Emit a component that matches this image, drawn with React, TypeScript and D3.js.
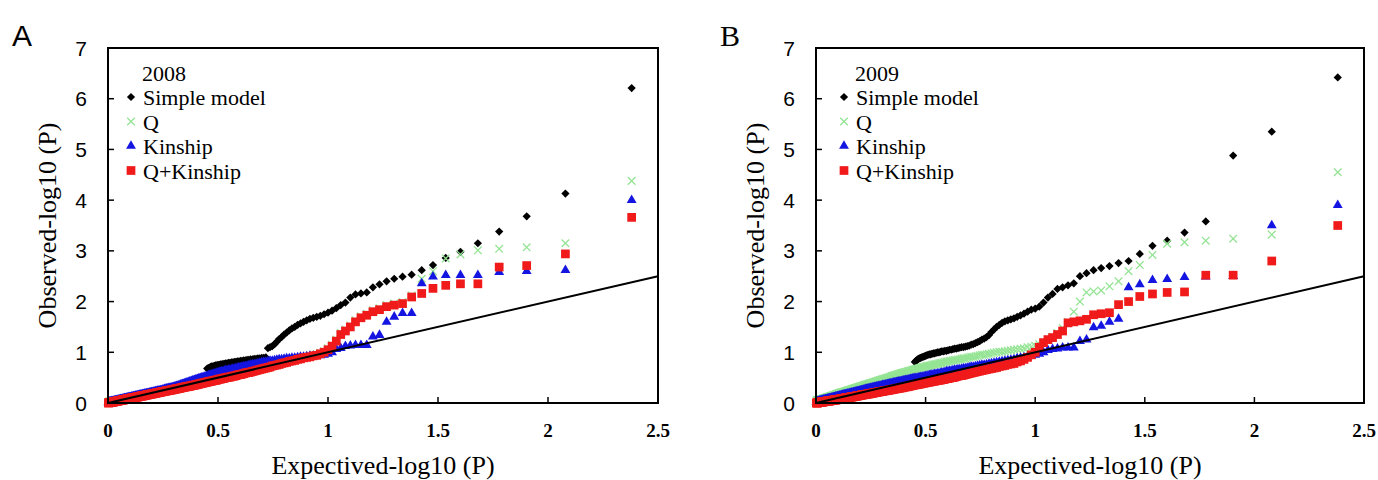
import React from "react";
import * as d3 from "d3";

// observed -log10(P), sorted from the strongest marker down (rank 1..239)
const simpleA = [
  6.21, 4.13, 3.68, 3.38, 3.15, 2.98, 2.86, 2.72, 2.62, 2.53,
  2.49, 2.45, 2.40, 2.34, 2.28, 2.18, 2.16, 2.14, 2.08, 1.98,
  1.93, 1.87, 1.82, 1.78, 1.75, 1.72, 1.70, 1.68, 1.66, 1.63,
  1.60, 1.57, 1.54, 1.50, 1.47, 1.43, 1.39, 1.35, 1.30, 1.26,
  1.21, 1.16, 1.12, 1.10, 1.08, 0.90, 0.89, 0.89, 0.88, 0.88,
  0.87, 0.87, 0.86, 0.86, 0.85, 0.85, 0.84, 0.84, 0.83, 0.83,
  0.82, 0.82, 0.81, 0.81, 0.80, 0.80, 0.79, 0.79, 0.78, 0.78,
  0.77, 0.77, 0.76, 0.76, 0.75, 0.75, 0.74, 0.74, 0.73, 0.72,
  0.72, 0.71, 0.70, 0.69, 0.68, 0.50, 0.50, 0.49, 0.48, 0.48,
  0.47, 0.46, 0.46, 0.45, 0.44, 0.44, 0.43, 0.42, 0.42, 0.41,
  0.40, 0.40, 0.39, 0.38, 0.38, 0.37, 0.37, 0.36, 0.35, 0.35,
  0.34, 0.34, 0.33, 0.32, 0.32, 0.31, 0.31, 0.30, 0.30, 0.29,
  0.29, 0.28, 0.28, 0.28, 0.27, 0.27, 0.27, 0.26, 0.26, 0.26,
  0.25, 0.25, 0.25, 0.24, 0.24, 0.24, 0.23, 0.23, 0.23, 0.22,
  0.22, 0.22, 0.22, 0.21, 0.21, 0.21, 0.20, 0.20, 0.20, 0.19,
  0.19, 0.19, 0.19, 0.18, 0.18, 0.18, 0.17, 0.17, 0.17, 0.17,
  0.16, 0.16, 0.16, 0.16, 0.15, 0.15, 0.15, 0.15, 0.14, 0.14,
  0.14, 0.14, 0.13, 0.13, 0.13, 0.13, 0.12, 0.12, 0.12, 0.12,
  0.11, 0.11, 0.11, 0.11, 0.10, 0.10, 0.10, 0.10, 0.09, 0.09,
  0.09, 0.09, 0.09, 0.08, 0.08, 0.08, 0.08, 0.07, 0.07, 0.07,
  0.07, 0.07, 0.06, 0.06, 0.06, 0.06, 0.05, 0.05, 0.05, 0.05,
  0.05, 0.04, 0.04, 0.04, 0.04, 0.04, 0.03, 0.03, 0.03, 0.03,
  0.03, 0.02, 0.02, 0.02, 0.02, 0.02, 0.01, 0.01, 0.01, 0.01,
  0.01, 0.01, 0.00, 0.00, 0.00, 0.00, 0.00, 0.00, 0.00,
];

const qA = [
  4.38, 3.15, 3.07, 3.04, 3.01, 2.93, 2.85, 2.60, 2.45, 2.12,
  1.99, 1.96, 1.93, 1.87, 1.83, 1.76, 1.71, 1.63, 1.53, 1.45,
  1.38, 1.25, 1.15, 1.08, 1.02, 0.99, 0.96, 0.95, 0.93, 0.92,
  0.91, 0.89, 0.88, 0.86, 0.85, 0.84, 0.82, 0.81, 0.80, 0.78,
  0.77, 0.76, 0.75, 0.73, 0.72, 0.71, 0.70, 0.69, 0.68, 0.67,
  0.66, 0.65, 0.64, 0.63, 0.62, 0.62, 0.61, 0.60, 0.59, 0.58,
  0.58, 0.57, 0.56, 0.55, 0.55, 0.54, 0.53, 0.53, 0.52, 0.52,
  0.51, 0.50, 0.50, 0.49, 0.49, 0.48, 0.47, 0.47, 0.46, 0.46,
  0.45, 0.45, 0.44, 0.44, 0.43, 0.43, 0.42, 0.42, 0.41, 0.41,
  0.40, 0.40, 0.39, 0.39, 0.38, 0.38, 0.37, 0.37, 0.37, 0.36,
  0.36, 0.35, 0.35, 0.35, 0.34, 0.34, 0.34, 0.33, 0.33, 0.33,
  0.32, 0.32, 0.31, 0.31, 0.31, 0.30, 0.30, 0.30, 0.29, 0.29,
  0.29, 0.28, 0.28, 0.28, 0.27, 0.27, 0.27, 0.27, 0.26, 0.26,
  0.26, 0.25, 0.25, 0.25, 0.25, 0.24, 0.24, 0.24, 0.23, 0.23,
  0.23, 0.23, 0.22, 0.22, 0.22, 0.21, 0.21, 0.21, 0.21, 0.20,
  0.20, 0.20, 0.20, 0.19, 0.19, 0.19, 0.19, 0.18, 0.18, 0.18,
  0.18, 0.17, 0.17, 0.17, 0.17, 0.16, 0.16, 0.16, 0.16, 0.16,
  0.15, 0.15, 0.15, 0.15, 0.14, 0.14, 0.14, 0.14, 0.13, 0.13,
  0.13, 0.13, 0.13, 0.12, 0.12, 0.12, 0.12, 0.12, 0.11, 0.11,
  0.11, 0.11, 0.11, 0.10, 0.10, 0.10, 0.10, 0.10, 0.09, 0.09,
  0.09, 0.09, 0.09, 0.08, 0.08, 0.08, 0.08, 0.08, 0.07, 0.07,
  0.07, 0.07, 0.07, 0.07, 0.06, 0.06, 0.06, 0.06, 0.06, 0.05,
  0.05, 0.05, 0.05, 0.05, 0.05, 0.04, 0.04, 0.04, 0.04, 0.04,
  0.04, 0.03, 0.03, 0.03, 0.03, 0.03, 0.03, 0.02, 0.02,
];

const kinshipA = [
  4.00, 2.62, 2.60, 2.58, 2.52, 2.52, 2.52, 2.49, 2.36, 1.77,
  1.77, 1.70, 1.60, 1.34, 1.31, 1.14, 1.14, 1.14, 1.13, 1.12,
  1.08, 1.06, 1.00, 0.97, 0.95, 0.94, 0.94, 0.93, 0.93, 0.92,
  0.91, 0.91, 0.90, 0.89, 0.89, 0.88, 0.88, 0.87, 0.86, 0.86,
  0.85, 0.84, 0.83, 0.83, 0.82, 0.81, 0.81, 0.80, 0.79, 0.78,
  0.77, 0.76, 0.76, 0.75, 0.74, 0.73, 0.72, 0.72, 0.71, 0.70,
  0.70, 0.69, 0.68, 0.67, 0.67, 0.66, 0.65, 0.65, 0.64, 0.64,
  0.63, 0.62, 0.62, 0.61, 0.61, 0.60, 0.59, 0.58, 0.58, 0.57,
  0.56, 0.55, 0.55, 0.54, 0.53, 0.52, 0.52, 0.51, 0.50, 0.50,
  0.49, 0.48, 0.48, 0.47, 0.46, 0.46, 0.45, 0.44, 0.44, 0.43,
  0.42, 0.42, 0.41, 0.40, 0.40, 0.39, 0.39, 0.38, 0.37, 0.37,
  0.36, 0.36, 0.35, 0.34, 0.34, 0.33, 0.33, 0.32, 0.32, 0.31,
  0.31, 0.30, 0.30, 0.30, 0.29, 0.29, 0.29, 0.28, 0.28, 0.28,
  0.27, 0.27, 0.27, 0.26, 0.26, 0.26, 0.25, 0.25, 0.25, 0.24,
  0.24, 0.24, 0.24, 0.23, 0.23, 0.23, 0.22, 0.22, 0.22, 0.21,
  0.21, 0.21, 0.21, 0.20, 0.20, 0.20, 0.19, 0.19, 0.19, 0.19,
  0.18, 0.18, 0.18, 0.18, 0.17, 0.17, 0.17, 0.17, 0.16, 0.16,
  0.16, 0.16, 0.15, 0.15, 0.15, 0.15, 0.14, 0.14, 0.14, 0.14,
  0.13, 0.13, 0.13, 0.13, 0.12, 0.12, 0.12, 0.12, 0.11, 0.11,
  0.11, 0.11, 0.11, 0.10, 0.10, 0.10, 0.10, 0.09, 0.09, 0.09,
  0.09, 0.09, 0.08, 0.08, 0.08, 0.08, 0.07, 0.07, 0.07, 0.07,
  0.07, 0.06, 0.06, 0.06, 0.06, 0.06, 0.05, 0.05, 0.05, 0.05,
  0.05, 0.04, 0.04, 0.04, 0.04, 0.04, 0.03, 0.03, 0.03, 0.03,
  0.03, 0.03, 0.02, 0.02, 0.02, 0.02, 0.02, 0.01, 0.01,
];

const qKinshipA = [
  3.66, 2.94, 2.71, 2.68, 2.35, 2.35, 2.32, 2.26, 2.16, 2.09,
  1.96, 1.93, 1.90, 1.84, 1.80, 1.73, 1.68, 1.60, 1.50, 1.42,
  1.35, 1.22, 1.12, 1.05, 1.00, 0.97, 0.94, 0.93, 0.91, 0.90,
  0.89, 0.87, 0.86, 0.84, 0.83, 0.82, 0.80, 0.79, 0.78, 0.76,
  0.75, 0.74, 0.73, 0.71, 0.70, 0.69, 0.68, 0.67, 0.66, 0.65,
  0.64, 0.63, 0.62, 0.61, 0.60, 0.60, 0.59, 0.58, 0.57, 0.56,
  0.56, 0.55, 0.54, 0.53, 0.53, 0.52, 0.51, 0.51, 0.50, 0.50,
  0.49, 0.48, 0.48, 0.47, 0.47, 0.46, 0.45, 0.45, 0.44, 0.44,
  0.43, 0.43, 0.42, 0.42, 0.41, 0.41, 0.40, 0.40, 0.39, 0.39,
  0.38, 0.38, 0.37, 0.37, 0.36, 0.36, 0.35, 0.35, 0.35, 0.34,
  0.34, 0.33, 0.33, 0.33, 0.32, 0.32, 0.32, 0.31, 0.31, 0.31,
  0.30, 0.30, 0.29, 0.29, 0.29, 0.28, 0.28, 0.28, 0.27, 0.27,
  0.27, 0.26, 0.26, 0.26, 0.25, 0.25, 0.25, 0.25, 0.24, 0.24,
  0.24, 0.23, 0.23, 0.23, 0.23, 0.22, 0.22, 0.22, 0.21, 0.21,
  0.21, 0.21, 0.20, 0.20, 0.20, 0.19, 0.19, 0.19, 0.19, 0.18,
  0.18, 0.18, 0.18, 0.17, 0.17, 0.17, 0.17, 0.16, 0.16, 0.16,
  0.16, 0.15, 0.15, 0.15, 0.15, 0.14, 0.14, 0.14, 0.14, 0.14,
  0.13, 0.13, 0.13, 0.13, 0.12, 0.12, 0.12, 0.12, 0.11, 0.11,
  0.11, 0.11, 0.11, 0.10, 0.10, 0.10, 0.10, 0.10, 0.09, 0.09,
  0.09, 0.09, 0.09, 0.08, 0.08, 0.08, 0.08, 0.08, 0.07, 0.07,
  0.07, 0.07, 0.07, 0.06, 0.06, 0.06, 0.06, 0.06, 0.05, 0.05,
  0.05, 0.05, 0.05, 0.05, 0.04, 0.04, 0.04, 0.04, 0.04, 0.03,
  0.03, 0.03, 0.03, 0.03, 0.03, 0.02, 0.02, 0.02, 0.02, 0.02,
  0.02, 0.01, 0.01, 0.01, 0.01, 0.01, 0.01, 0.00, 0.00,
];

const simpleB = [
  6.42, 5.35, 4.88, 3.58, 3.36, 3.20, 3.10, 2.94, 2.80, 2.76,
  2.70, 2.66, 2.62, 2.56, 2.50, 2.36, 2.32, 2.28, 2.25, 2.15,
  2.08, 1.98, 1.90, 1.86, 1.84, 1.80, 1.76, 1.73, 1.70, 1.67,
  1.65, 1.63, 1.61, 1.58, 1.54, 1.50, 1.45, 1.40, 1.34, 1.30,
  1.27, 1.25, 1.22, 1.20, 1.18, 1.16, 1.15, 1.13, 1.12, 1.11,
  1.10, 1.10, 1.09, 1.08, 1.07, 1.07, 1.06, 1.05, 1.05, 1.04,
  1.03, 1.03, 1.02, 1.02, 1.01, 1.00, 1.00, 0.99, 0.98, 0.98,
  0.97, 0.96, 0.96, 0.95, 0.94, 0.93, 0.92, 0.91, 0.90, 0.89,
  0.88, 0.87, 0.85, 0.83, 0.81, 0.46, 0.46, 0.45, 0.45, 0.44,
  0.44, 0.43, 0.43, 0.43, 0.42, 0.42, 0.41, 0.41, 0.40, 0.40,
  0.40, 0.39, 0.39, 0.38, 0.38, 0.38, 0.37, 0.37, 0.36, 0.36,
  0.36, 0.35, 0.35, 0.34, 0.34, 0.34, 0.33, 0.33, 0.33, 0.32,
  0.32, 0.31, 0.31, 0.31, 0.30, 0.30, 0.30, 0.29, 0.29, 0.29,
  0.28, 0.28, 0.28, 0.27, 0.27, 0.27, 0.26, 0.26, 0.26, 0.25,
  0.25, 0.25, 0.25, 0.24, 0.24, 0.24, 0.23, 0.23, 0.23, 0.22,
  0.22, 0.22, 0.21, 0.21, 0.21, 0.21, 0.20, 0.20, 0.20, 0.19,
  0.19, 0.19, 0.18, 0.18, 0.18, 0.18, 0.17, 0.17, 0.17, 0.16,
  0.16, 0.16, 0.16, 0.15, 0.15, 0.15, 0.15, 0.14, 0.14, 0.14,
  0.14, 0.13, 0.13, 0.13, 0.12, 0.12, 0.12, 0.12, 0.11, 0.11,
  0.11, 0.11, 0.10, 0.10, 0.10, 0.10, 0.09, 0.09, 0.09, 0.09,
  0.08, 0.08, 0.08, 0.08, 0.07, 0.07, 0.07, 0.07, 0.07, 0.06,
  0.06, 0.06, 0.06, 0.05, 0.05, 0.05, 0.05, 0.05, 0.04, 0.04,
  0.04, 0.04, 0.04, 0.03, 0.03, 0.03, 0.03, 0.02, 0.02, 0.02,
  0.02, 0.02, 0.01, 0.01, 0.01, 0.01, 0.01, 0.00, 0.00,
];

const qB = [
  4.55, 3.32, 3.24, 3.20, 3.17, 3.14, 2.92, 2.72, 2.60, 2.40,
  2.30, 2.22, 2.20, 2.18, 2.00, 1.80, 1.60, 1.48, 1.38, 1.30,
  1.25, 1.20, 1.16, 1.13, 1.11, 1.10, 1.08, 1.07, 1.06, 1.05,
  1.04, 1.03, 1.02, 1.01, 1.01, 1.00, 0.99, 0.98, 0.97, 0.96,
  0.95, 0.95, 0.94, 0.93, 0.92, 0.91, 0.91, 0.90, 0.89, 0.88,
  0.88, 0.87, 0.86, 0.86, 0.85, 0.85, 0.84, 0.83, 0.83, 0.82,
  0.82, 0.81, 0.80, 0.79, 0.79, 0.78, 0.77, 0.77, 0.76, 0.76,
  0.75, 0.74, 0.74, 0.73, 0.73, 0.72, 0.71, 0.71, 0.70, 0.69,
  0.69, 0.68, 0.67, 0.67, 0.66, 0.66, 0.65, 0.64, 0.64, 0.63,
  0.63, 0.62, 0.61, 0.61, 0.60, 0.60, 0.59, 0.59, 0.58, 0.57,
  0.57, 0.56, 0.55, 0.55, 0.54, 0.54, 0.53, 0.53, 0.52, 0.51,
  0.51, 0.50, 0.50, 0.49, 0.49, 0.48, 0.48, 0.47, 0.47, 0.46,
  0.46, 0.45, 0.45, 0.44, 0.44, 0.43, 0.43, 0.42, 0.42, 0.41,
  0.41, 0.40, 0.40, 0.39, 0.39, 0.39, 0.38, 0.38, 0.37, 0.37,
  0.36, 0.36, 0.36, 0.35, 0.35, 0.34, 0.34, 0.33, 0.33, 0.33,
  0.32, 0.32, 0.31, 0.31, 0.31, 0.30, 0.30, 0.29, 0.29, 0.29,
  0.28, 0.28, 0.28, 0.27, 0.27, 0.26, 0.26, 0.26, 0.25, 0.25,
  0.25, 0.24, 0.24, 0.24, 0.23, 0.23, 0.22, 0.22, 0.22, 0.21,
  0.21, 0.21, 0.21, 0.20, 0.20, 0.20, 0.19, 0.19, 0.19, 0.18,
  0.18, 0.18, 0.17, 0.17, 0.17, 0.16, 0.16, 0.16, 0.15, 0.15,
  0.15, 0.15, 0.14, 0.14, 0.14, 0.13, 0.13, 0.13, 0.12, 0.12,
  0.12, 0.12, 0.11, 0.11, 0.11, 0.10, 0.10, 0.10, 0.10, 0.09,
  0.09, 0.09, 0.08, 0.08, 0.08, 0.08, 0.07, 0.07, 0.07, 0.06,
  0.06, 0.06, 0.06, 0.06, 0.05, 0.05, 0.05, 0.05, 0.04,
];

const kinshipB = [
  3.90, 3.50, 2.50, 2.49, 2.48, 2.44, 2.42, 2.34, 2.28, 1.66,
  1.60, 1.52, 1.49, 1.25, 1.22, 1.09, 1.09, 1.09, 1.07, 1.06,
  1.04, 1.00, 0.97, 0.95, 0.93, 0.92, 0.90, 0.89, 0.88, 0.86,
  0.85, 0.84, 0.83, 0.82, 0.81, 0.80, 0.79, 0.78, 0.77, 0.76,
  0.75, 0.75, 0.74, 0.73, 0.72, 0.71, 0.71, 0.70, 0.69, 0.68,
  0.68, 0.67, 0.66, 0.66, 0.65, 0.65, 0.64, 0.63, 0.63, 0.62,
  0.62, 0.61, 0.60, 0.60, 0.59, 0.58, 0.58, 0.57, 0.57, 0.56,
  0.56, 0.55, 0.55, 0.54, 0.53, 0.53, 0.52, 0.52, 0.51, 0.51,
  0.50, 0.50, 0.49, 0.49, 0.49, 0.48, 0.48, 0.47, 0.47, 0.46,
  0.46, 0.45, 0.45, 0.45, 0.44, 0.44, 0.43, 0.43, 0.42, 0.42,
  0.42, 0.41, 0.41, 0.40, 0.40, 0.40, 0.39, 0.39, 0.38, 0.38,
  0.38, 0.37, 0.37, 0.36, 0.36, 0.36, 0.35, 0.35, 0.35, 0.34,
  0.34, 0.33, 0.33, 0.33, 0.32, 0.32, 0.32, 0.31, 0.31, 0.31,
  0.30, 0.30, 0.30, 0.29, 0.29, 0.29, 0.28, 0.28, 0.28, 0.27,
  0.27, 0.27, 0.27, 0.26, 0.26, 0.26, 0.25, 0.25, 0.25, 0.24,
  0.24, 0.24, 0.23, 0.23, 0.23, 0.23, 0.22, 0.22, 0.22, 0.21,
  0.21, 0.21, 0.20, 0.20, 0.20, 0.20, 0.19, 0.19, 0.19, 0.18,
  0.18, 0.18, 0.18, 0.17, 0.17, 0.17, 0.17, 0.16, 0.16, 0.16,
  0.16, 0.15, 0.15, 0.15, 0.14, 0.14, 0.14, 0.14, 0.13, 0.13,
  0.13, 0.13, 0.12, 0.12, 0.12, 0.12, 0.11, 0.11, 0.11, 0.11,
  0.10, 0.10, 0.10, 0.10, 0.09, 0.09, 0.09, 0.09, 0.09, 0.08,
  0.08, 0.08, 0.08, 0.07, 0.07, 0.07, 0.07, 0.07, 0.06, 0.06,
  0.06, 0.06, 0.06, 0.05, 0.05, 0.05, 0.05, 0.04, 0.04, 0.04,
  0.04, 0.04, 0.03, 0.03, 0.03, 0.03, 0.03, 0.02, 0.02,
];

const qKinshipB = [
  3.50, 2.80, 2.52, 2.52, 2.19, 2.18, 2.15, 2.10, 2.00, 1.94,
  1.78, 1.76, 1.74, 1.65, 1.62, 1.60, 1.58, 1.42, 1.35, 1.29,
  1.25, 1.19, 1.10, 1.00, 0.95, 0.90, 0.86, 0.83, 0.81, 0.78,
  0.77, 0.76, 0.74, 0.73, 0.72, 0.70, 0.69, 0.68, 0.67, 0.66,
  0.65, 0.64, 0.63, 0.62, 0.61, 0.60, 0.59, 0.58, 0.57, 0.56,
  0.55, 0.54, 0.54, 0.53, 0.52, 0.51, 0.50, 0.50, 0.49, 0.48,
  0.48, 0.47, 0.46, 0.46, 0.45, 0.45, 0.44, 0.44, 0.43, 0.43,
  0.42, 0.42, 0.41, 0.41, 0.40, 0.40, 0.39, 0.39, 0.38, 0.38,
  0.37, 0.37, 0.36, 0.36, 0.36, 0.35, 0.35, 0.34, 0.34, 0.33,
  0.33, 0.32, 0.32, 0.32, 0.31, 0.31, 0.30, 0.30, 0.30, 0.29,
  0.29, 0.29, 0.28, 0.28, 0.28, 0.27, 0.27, 0.27, 0.26, 0.26,
  0.26, 0.25, 0.25, 0.25, 0.25, 0.24, 0.24, 0.24, 0.23, 0.23,
  0.23, 0.23, 0.22, 0.22, 0.22, 0.21, 0.21, 0.21, 0.21, 0.20,
  0.20, 0.20, 0.19, 0.19, 0.19, 0.19, 0.18, 0.18, 0.18, 0.18,
  0.17, 0.17, 0.17, 0.17, 0.17, 0.16, 0.16, 0.16, 0.16, 0.15,
  0.15, 0.15, 0.15, 0.14, 0.14, 0.14, 0.14, 0.13, 0.13, 0.13,
  0.13, 0.13, 0.12, 0.12, 0.12, 0.12, 0.12, 0.11, 0.11, 0.11,
  0.11, 0.11, 0.10, 0.10, 0.10, 0.10, 0.10, 0.09, 0.09, 0.09,
  0.09, 0.09, 0.08, 0.08, 0.08, 0.08, 0.08, 0.07, 0.07, 0.07,
  0.07, 0.07, 0.07, 0.06, 0.06, 0.06, 0.06, 0.06, 0.06, 0.06,
  0.05, 0.05, 0.05, 0.05, 0.05, 0.05, 0.04, 0.04, 0.04, 0.04,
  0.04, 0.04, 0.04, 0.04, 0.03, 0.03, 0.03, 0.03, 0.03, 0.03,
  0.03, 0.02, 0.02, 0.02, 0.02, 0.02, 0.02, 0.02, 0.01, 0.01,
  0.01, 0.01, 0.01, 0.01, 0.01, 0.00, 0.00, 0.00, 0.00,
];

const xTicks = [0, 0.5, 1, 1.5, 2, 2.5];
const yTicks = [0, 1, 2, 3, 4, 5, 6, 7];
const seriesNames = ["Simple model", "Q", "Kinship", "Q+Kinship"];
const seriesColors = ["#000000", "#94e494", "#1515e2", "#f01a1a"];

const serif = "'Liberation Serif', 'Times New Roman', serif";
const sans = "'Liberation Sans', Arial, sans-serif";

const panels = [
  { letter: "A", letterFont: sans, year: "2008", left: 108, right: 658, legendDx: 35, data: [simpleA, qA, kinshipA, qKinshipA] },
  { letter: "B", letterFont: serif, year: "2009", left: 816, right: 1364, legendDx: 40, data: [simpleB, qB, kinshipB, qKinshipB] },
];

const plotTop = 48;
const plotBottom = 403;

const diamondPath = d3.symbol(d3.symbolSquare, 34)();
const squarePath = d3.symbol(d3.symbolSquare, 76)();
const trianglePath = d3.symbol(d3.symbolTriangle, 42)();
const crossPath = "M-3.8,-3.8L3.8,3.8M-3.8,3.8L3.8,-3.8";

function Marker({ kind, x, y }: { kind: number; x: number; y: number }) {
  const c = seriesColors[kind];
  if (kind === 0) return <path d={diamondPath!} transform={`translate(${x},${y}) rotate(45)`} fill={c} />;
  if (kind === 1) return <path d={crossPath} transform={`translate(${x},${y})`} fill="none" stroke={c} strokeWidth={1.3} />;
  if (kind === 2) return <path d={trianglePath!} transform={`translate(${x},${y})`} fill={c} />;
  return <path d={squarePath!} transform={`translate(${x},${y})`} fill={c} />;
}

function Panel({ p }: { p: (typeof panels)[number] }) {
  const x = d3.scaleLinear().domain([0, 2.5]).range([p.left, p.right]);
  const y = d3.scaleLinear().domain([0, 7]).range([plotBottom, plotTop]);
  const n = p.data[0].length;
  // expected -log10(P) for the i-th smallest of n P values
  const expected = d3.range(1, n + 1).map((i) => -Math.log10(i / (n + 1)));
  const lx = p.left + p.legendDx;
  const legendY = [105, 129.5, 154, 178.5];

  return (
    <g>
      <text x={p.left - 96} y={46} fontFamily={p.letterFont} fontSize={30}>{p.letter}</text>

      {p.data.map((vals, k) => (
        <g key={k}>
          {vals.map((v, i) => (
            <Marker key={i} kind={k} x={x(expected[i])} y={y(v)} />
          ))}
        </g>
      ))}

      <line x1={x(0)} y1={y(0)} x2={x(2.5)} y2={y(2.5)} stroke="#000" strokeWidth={2} />

      <rect x={p.left} y={plotTop} width={p.right - p.left} height={plotBottom - plotTop} fill="none" stroke="#000" strokeWidth={2} />

      {yTicks.map((t) => (
        <g key={t}>
          {t > 0 && t < 7 && <line x1={p.left} x2={p.left + 6} y1={y(t)} y2={y(t)} stroke="#000" strokeWidth={1.5} />}
          <text x={p.left - 21} y={y(t)} dy="0.36em" textAnchor="end" fontFamily={sans} fontSize={21}>{t}</text>
        </g>
      ))}
      {xTicks.map((t) => (
        <g key={t}>
          {t > 0 && t < 2.5 && <line x1={x(t)} x2={x(t)} y1={plotBottom} y2={plotBottom - 6} stroke="#000" strokeWidth={1.5} />}
          <text x={x(t)} y={437} textAnchor="middle" fontFamily={serif} fontWeight="bold" fontSize={19}>{t}</text>
        </g>
      ))}

      <text x={(p.left + p.right) / 2} y={474} textAnchor="middle" fontFamily={serif} fontSize={26}>Expectived-log10 (P)</text>
      <text transform={`translate(${p.left - 52},${(plotTop + plotBottom) / 2}) rotate(-90)`} textAnchor="middle" fontFamily={serif} fontSize={26}>Observed-log10 (P)</text>

      <text x={lx - 1} y={81} fontFamily={serif} fontSize={22}>{p.year}</text>
      {seriesNames.map((name, k) => (
        <g key={name}>
          <Marker kind={k} x={lx - 12} y={legendY[k] - 8} />
          <text x={lx} y={legendY[k]} fontFamily={serif} fontSize={22}>{name}</text>
        </g>
      ))}
    </g>
  );
}

export default function App() {
  return (
    <svg width={1378} height={480} style={{ position: "absolute", left: 0, top: 0, background: "#fff" }}>
      {panels.map((p) => (
        <Panel key={p.letter} p={p} />
      ))}
    </svg>
  );
}
